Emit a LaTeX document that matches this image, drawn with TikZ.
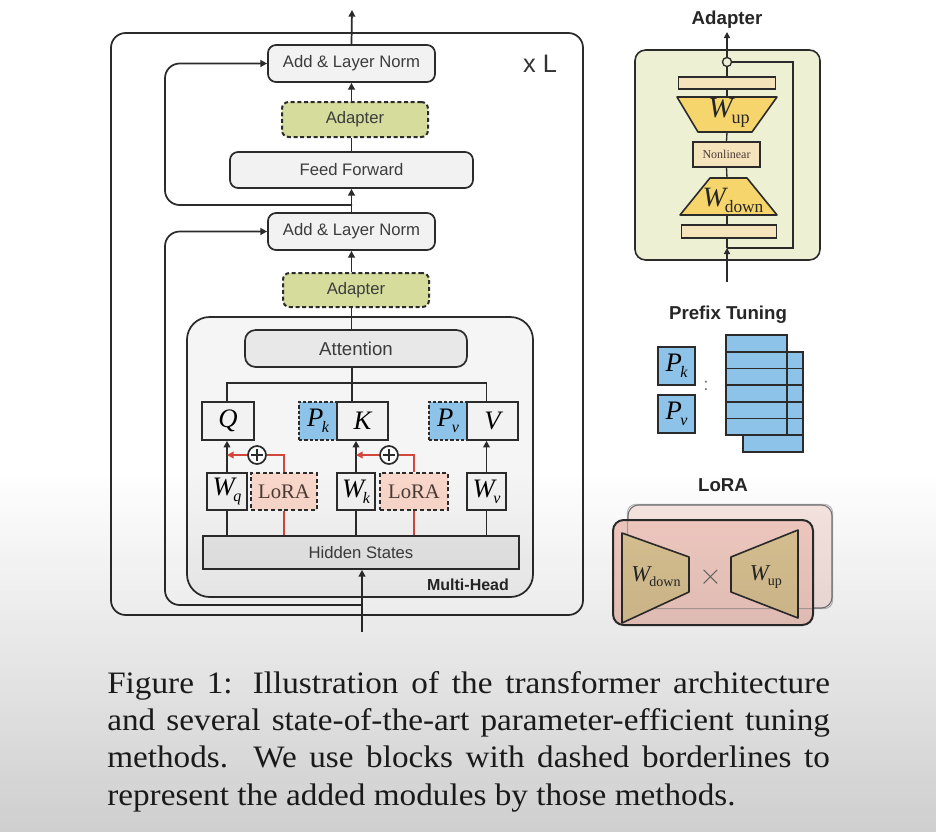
\documentclass[tikz,border=0pt]{standalone}
\usepackage{fontspec}
\usepackage{unicode-math}
\setmathfont{Latin Modern Math}
\newfontfamily\dsans{Liberation Sans}
\newfontfamily\tms{Liberation Serif}
\newfontfamily\capfont[FakeStretch=1.065]{Liberation Serif}
\usetikzlibrary{arrows.meta,calc}
\newcommand\itsub[2]{{\tms\itshape #1}\kern-0.06em\raisebox{-0.22em}{\scalebox{0.6}{\tms\itshape #2}}}
\newcommand\rmsub[2]{{\tms\itshape #1}\kern-0.04em\raisebox{-0.22em}{\scalebox{0.62}{\tms #2}}}
\definecolor{boxfill}{HTML}{F2F2F2}
\definecolor{attfill}{HTML}{E8E8E8}
\definecolor{edge}{HTML}{2B2B2B}
\definecolor{txt}{HTML}{3C3C3C}
\definecolor{adgreen}{HTML}{D5DC9C}
\definecolor{pblue}{HTML}{8DC3E8}
\definecolor{lpink}{HTML}{F9D8CB}
\definecolor{loratxt}{HTML}{4A3A34}
\definecolor{lred}{HTML}{D2463C}
\definecolor{apbg}{HTML}{EDF0D3}
\definecolor{gold}{HTML}{F6D66C}
\definecolor{wheat}{HTML}{F5E3BC}
\definecolor{lorabg}{HTML}{F3CCC3}
\definecolor{lorabk}{HTML}{F8E6E2}
\definecolor{tanfill}{HTML}{DBC393}
\definecolor{mhfill}{HTML}{F5F5F5}
\tikzset{
  wd/.style={minimum width=#1*0.75pt},
  ht/.style={minimum height=#1*0.75pt},
  sansf/.style={font=\dsans\fontsize{#1}{#1}\selectfont},
  serf/.style={font=\tms\fontsize{#1}{#1}\selectfont},
  mainbox/.style={draw=edge, line width=1.3pt, fill=boxfill, rounded corners=6pt, inner sep=0pt, sansf=12.5, text=txt},
  adbox/.style={draw=edge, line width=1.5pt, dash pattern=on 3pt off 2pt, fill=adgreen, rounded corners=5pt, inner sep=0pt, sansf=12.5, text=txt},
  sqbox/.style={draw=edge, line width=1.2pt, fill=boxfill, inner sep=0pt, serf=20, text=black},
  pdash/.style={draw=edge, line width=1.2pt, dash pattern=on 2.5pt off 1.5pt, fill=pblue, inner sep=0pt, serf=20, text=black},
  lorabox/.style={draw=edge, line width=1.3pt, dash pattern=on 3pt off 2pt, fill=lpink, inner sep=0pt, serf=15.5, text=loratxt},
  conn/.style={draw=edge, line width=1.3pt},
  arr/.style={conn, -{Triangle[length=5pt,width=5pt]}},
  redconn/.style={draw=lred, line width=1.3pt},
  redarr/.style={redconn, -{Triangle[length=5pt,width=5pt]}},
  thin/.style={draw=edge, line width=1pt},
  thinarr/.style={thin, -{Triangle[length=4.5pt,width=4.5pt]}},
  titletext/.style={font=\dsans\bfseries\fontsize{14}{16}\selectfont, text=black!85},
  pluscirc/.style={circle, draw=edge, line width=1.3pt, fill=white, minimum size=13.5pt, inner sep=0pt,
    path picture={\draw[line width=1.2pt, edge] ([xshift=-4.2pt]path picture bounding box.center) -- ([xshift=4.2pt]path picture bounding box.center)
      ([yshift=-4.2pt]path picture bounding box.center) -- ([yshift=4.2pt]path picture bounding box.center);}},
  capline/.style={anchor=base west, inner sep=0pt, font=\capfont\fontsize{23.4}{28}\selectfont, text=black!88},
  trapfill/.style={draw=edge, line width=1.2pt, line join=round},
}
\begin{document}
\begin{tikzpicture}[x=0.75pt,y=-0.75pt]
\useasboundingbox (0,0) rectangle (936,832);
\fill[white] (0,0) rectangle (936,832);

% ---------------- main transformer block ----------------
\node[draw=edge, line width=1.3pt, rounded corners=11pt, wd=472, ht=582, inner sep=0pt] (outer) at (347,324) {};
\node[sansf=19, text=black!80] (xl) at (540,64) {x L};

\node[mainbox, wd=167, ht=37] (aln1) at (351.5,63.5) {Add \& Layer Norm};
\node[adbox, wd=146, ht=35] (ad1) at (355,119.5) {Adapter};
\node[mainbox, wd=243, ht=36] (ff) at (351.5,170) {Feed Forward};
\node[mainbox, wd=167, ht=37] (aln2) at (351.5,231.5) {Add \& Layer Norm};
\node[adbox, wd=146, ht=34] (ad2) at (356,290) {Adapter};

\node[draw=edge, line width=1.3pt, fill=mhfill, rounded corners=17pt, wd=346, ht=280, inner sep=0pt] (mh) at (360,457) {};
\node[font=\dsans\bfseries\fontsize{12}{14}\selectfont, text=black!85] (mhl) at (468,585) {Multi-Head};

\node[mainbox, fill=attfill, rounded corners=8pt, wd=222, ht=37, sansf=14] (att) at (356,348.5) {Attention};

\node[sqbox, wd=52, ht=38] (Q) at (228,421) {\itshape Q};
\node[pdash, wd=38, ht=38] (Pk) at (318,421) {\itsub{P}{k}};
\node[sqbox, wd=51, ht=38] (K) at (362.5,421) {\itshape K};
\node[pdash, wd=38, ht=38] (Pv) at (448,421) {\itsub{P}{v}};
\node[sqbox, wd=51, ht=38] (V) at (492.5,421) {\itshape V};

\node[sqbox, wd=40, ht=37] (Wq) at (227,491.5) {\itsub{W}{q}};
\node[lorabox, wd=66, ht=37] (L1) at (284,491.5) {LoRA};
\node[sqbox, wd=38, ht=37] (Wk) at (356,491.5) {\itsub{W}{k}};
\node[lorabox, wd=68, ht=37] (L2) at (414,491.5) {LoRA};
\node[sqbox, wd=39, ht=37] (Wv) at (486.5,491.5) {\itsub{W}{v}};

\node[mainbox, fill=attfill, rounded corners=0pt, wd=316, ht=33] (hs) at (361,552.5) {Hidden States};

\node[pluscirc] (p1) at (257,455) {};
\node[pluscirc] (p2) at (389,455) {};

% connectors in main column
\coordinate (top) at (352,10);
\coordinate (s1) at (352,205);
\coordinate (l1) at (165,63.5);
\coordinate (s2) at (362,605);
\coordinate (l2) at (165,231.5);
\coordinate (in) at (362,632);
\coordinate (br) at (352,383);

\draw[arr] (aln1.north) -- (top);
\draw[arr] (aln1 |- ad1.north) -- (aln1.south);
\draw[conn] (aln1 |- ff.north) -- (aln1 |- ad1.south);
\draw[arr] (aln2.north) -- (ff.south);
\draw[arr] (aln2 |- ad2.north) -- (aln2.south);
\draw[conn] (aln2 |- att.north) -- (aln2 |- ad2.south);
\draw[arr, rounded corners=11pt] (s1) -| (l1) -- (aln1.west);
\draw[arr, rounded corners=11pt] (s2) -| (l2) -- (aln2.west);
\draw[arr] (in) -- (in |- hs.south);

\draw[conn] (br) -- (br |- att.south);
\draw[conn] (Wq |- Q.north) |- (br) -| (Wv |- V.north);
\draw[conn] (br) -- (br |- K.north);

\draw[arr] (Wq.north) -- (Wq |- Q.south);
\draw[arr] (Wk.north) -- (Wk |- K.south);
\draw[arr] (Wv.north) -- (Wv |- V.south);
\draw[conn] (Wq |- hs.north) -- (Wq.south);
\draw[conn] (Wk |- hs.north) -- (Wk.south);
\draw[conn] (Wv |- hs.north) -- (Wv.south);

\draw[redconn] (L1 |- hs.north) -- (L1.south);
\draw[redconn] (L1.north) |- (p1.east);
\draw[redarr] (p1.west) -- (Wq |- p1);
\draw[redconn] (L2 |- hs.north) -- (L2.south);
\draw[redconn] (L2.north) |- (p2.east);
\draw[redarr] (p2.west) -- (Wk |- p2);

% ---------------- Adapter panel ----------------
\node[titletext] (aptitle) at (727,20) {Adapter};
\node[draw=edge, line width=1.2pt, fill=apbg, rounded corners=8pt, wd=185, ht=210, inner sep=0pt] (apanel) at (727.5,155) {};
\node[draw=edge, line width=1pt, fill=wheat, wd=97, ht=12, inner sep=0pt] (bar1) at (727,83) {};
\node[draw=edge, line width=1pt, fill=wheat, wd=95, ht=13, inner sep=0pt] (bar2) at (729,231.5) {};
\node[draw=edge, line width=1pt, fill=wheat, wd=67, ht=25, inner sep=0pt, serf=9, text=loratxt] (nl) at (726.5,154.5) {Nonlinear};
\draw[trapfill, fill=gold] (677,97) -- (777,97) -- (752,132) -- (698,132) -- cycle;
\draw[trapfill, fill=gold] (710,178) -- (747,178) -- (777,215) -- (680,215) -- cycle;
\node[serf=22, text=black!85] (wupt) at (729,113) {\rmsub{W}{up}};
\node[serf=21, text=black!85] (wdnt) at (733,200) {\rmsub{W}{down}};
\coordinate (wupT) at (727,97);
\coordinate (wupB) at (727,132);
\coordinate (wdT) at (727,178);
\coordinate (wdB) at (727,215);
\node[circle, draw=edge, line width=1pt, fill=apbg, minimum size=6.8pt, inner sep=0pt] (ac) at (727,62) {};
\coordinate (aj) at (727,248);
\coordinate (ain) at (727,282);
\coordinate (aout) at (727,32);
\coordinate (askip) at (793,62);
\draw[thinarr] (ain) -- (aj);
\draw[thin] (aj) -- (aj |- bar2.south);
\draw[thin] (aj |- bar2.north) -- (wdB);
\draw[thin] (wdT) -- (nl.south);
\draw[thin] (nl.north) -- (wupB);
\draw[thin] (wupT) -- (bar1.south);
\draw[thin] (bar1.north) -- (ac.south);
\draw[thinarr] (ac.north) -- (aout);
\draw[thin] (aj) -| (askip) -- (ac.east);

% ---------------- Prefix Tuning panel ----------------
\node[titletext] (pttitle) at (728,315) {Prefix Tuning};
\node[draw=edge, line width=1.2pt, fill=pblue, wd=37, ht=38, inner sep=0pt, serf=20] (pk2) at (676.5,366) {\itsub{P}{k}};
\node[draw=edge, line width=1.2pt, fill=pblue, wd=37, ht=38, inner sep=0pt, serf=20] (pv2) at (676.5,414) {\itsub{P}{v}};
\node[sansf=13, text=black!60] (colon) at (706,386) {:};
\draw[thin, fill=pblue] (743,352) rectangle (803,452);
\foreach \yy in {368.5,385,402,418.5,435} {\draw[thin] (743,\yy) -- (803,\yy);}
\draw[thin, fill=pblue] (726,335) rectangle (787,435);
\foreach \yy in {352,368.5,385,402,418.5} {\draw[thin] (726,\yy) -- (787,\yy);}

% ---------------- LoRA panel ----------------
\node[titletext] (lrtitle) at (723,485) {LoRA};
\node[draw=black!55, line width=0.8pt, fill=lorabk, rounded corners=8pt, wd=204, ht=103, inner sep=0pt] (lback) at (730,556.5) {};
\node[fill=lorabg, rounded corners=8pt, wd=200, ht=105, inner sep=0pt] (lfront) at (713,572.5) {};
\draw[draw=black!55, line width=0.8pt, rounded corners=6pt, opacity=0.5] (lback.north west) rectangle (lback.south east);
\draw[trapfill, fill=tanfill] (622,533) -- (689,557) -- (689,592) -- (622,623) -- cycle;
\draw[trapfill, fill=tanfill] (731,557) -- (798,530) -- (798,618) -- (731,592) -- cycle;
\node[draw=edge, line width=1.5pt, rounded corners=8pt, wd=200, ht=105, inner sep=0pt] (lframe) at (713,572.5) {};
\node[serf=17, text=black!85] (lwd) at (656,577) {\rmsub{W}{down}};
\node[serf=17, text=black!85] (lwu) at (766,577) {\rmsub{W}{up}};
\node[font=\fontsize{22}{24}\selectfont, text=black!60] (times) at (711,577) {$\times$};

% ---------------- caption ----------------
\node[capline] (c1) at (107,693.5) {\makebox[542pt][s]{Figure 1: Illustration of the transformer architecture}};
\node[capline] (c2) at (107,730.7) {\makebox[542pt][s]{and several state-of-the-art parameter-efficient tuning}};
\node[capline] (c3) at (107,767.9) {\makebox[542pt][s]{methods.\ \ We use blocks with dashed borderlines to}};
\node[capline] (c4) at (107,805.1) {represent the added modules by those methods.};

% ---------------- video darkening overlay ----------------
\foreach \i in {0,...,59} {
  \pgfmathsetmacro\op{0.19*(\i+0.5)/60}
  \fill[black, opacity=\op] (0,{470+\i*6.0333}) rectangle (936,{470+(\i+1)*6.0333});
}
\end{tikzpicture}
\end{document}
